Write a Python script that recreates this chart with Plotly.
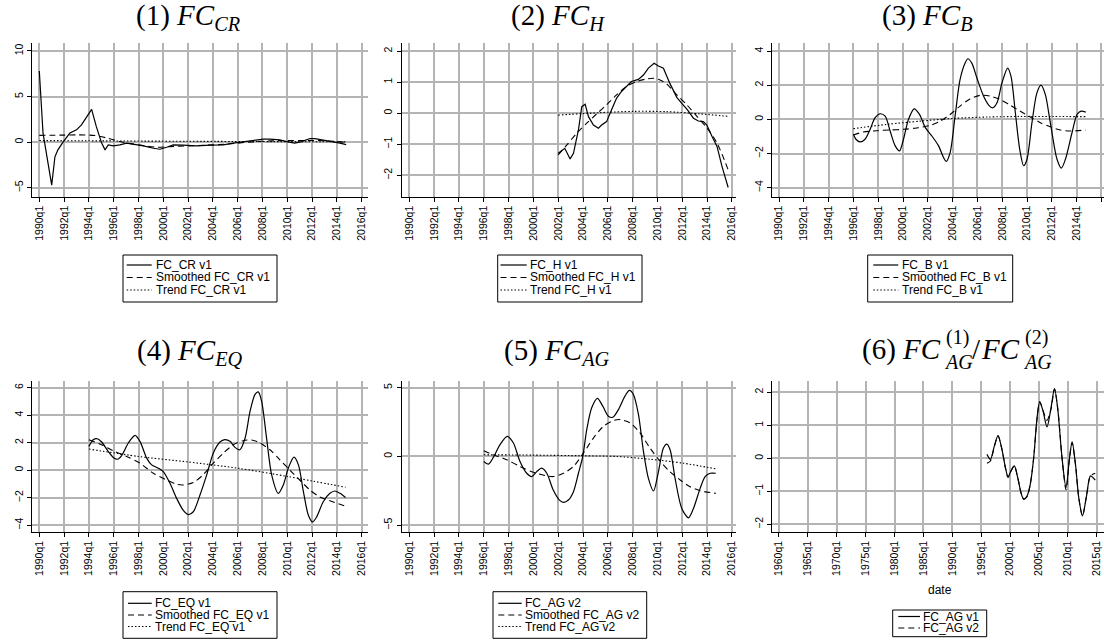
import plotly.graph_objects as go

# ---------------- data (decimal years) ----------------
cr_x = [1990.0, 1990.3, 1991.0, 1991.26, 1991.5, 1991.94, 1992.47, 1993.0, 1993.4, 1993.8,
        1994.22, 1994.6, 1995.03, 1995.3, 1995.56, 1995.97, 1996.5, 1997.04, 1997.58, 1998.4,
        1999.2, 1999.73, 2000.27, 2000.8, 2001.6, 2002.7, 2003.76, 2004.84, 2005.65, 2006.45,
        2007.26, 2008.06, 2008.6, 2009.4, 2009.95, 2010.6, 2011.16, 2011.83, 2012.23, 2012.9,
        2013.7, 2014.25, 2014.75]
cr_y = [7.8, 1.0, -4.7, -1.6, -0.84, 0.07, 1.0, 1.35, 1.9, 2.8,
        3.6, 1.7, -0.1, -0.84, -0.3, -0.4, -0.3, -0.1, -0.2, -0.4,
        -0.66, -0.77, -0.55, -0.3, -0.33, -0.4, -0.33, -0.3, -0.1, 0.04,
        0.18, 0.33, 0.33, 0.26, 0.07, -0.1, 0.07, 0.4, 0.4, 0.26,
        0.04, -0.1, -0.26]
cr_s_x = [1990.0, 1992.0, 1993.0, 1994.5, 1995.5, 1996.5, 1997.5, 1998.5, 1999.5, 2000.5,
          2002.0, 2003.5, 2005.0, 2006.5, 2008.0, 2009.5, 2011.0, 2012.5, 2014.0, 2014.75]
cr_s_y = [0.75, 0.78, 0.8, 0.73, 0.44, 0.07, -0.18, -0.4, -0.55, -0.48,
          -0.4, -0.33, -0.22, -0.04, 0.1, 0.18, 0.18, 0.18, 0.07, -0.04]
cr_t_x = [1990.0, 2002.0, 2014.75]
cr_t_y = [0.18, 0.1, 0.04]

h_x = [2002.0, 2002.53, 2002.96, 2003.23, 2003.63, 2003.9, 2004.17, 2004.44, 2004.84, 2005.24,
       2005.5, 2005.9, 2006.3, 2006.7, 2007.1, 2007.5, 2007.9, 2008.46, 2008.87, 2009.27,
       2009.73, 2010.08, 2010.48, 2011.0, 2011.56, 2011.96, 2012.42, 2012.9, 2013.3, 2013.7,
       2013.98, 2014.4, 2014.8, 2015.2, 2015.7]
h_y = [-1.29, -1.13, -1.47, -1.29, -0.54, 0.21, 0.29, -0.11, -0.38, -0.48,
       -0.38, -0.27, 0.11, 0.48, 0.70, 0.86, 1.02, 1.09, 1.23, 1.45,
       1.61, 1.52, 1.45, 0.96, 0.51, 0.32, 0.11, -0.16, -0.25, -0.27,
       -0.38, -0.75, -1.07, -1.71, -2.39]
h_s_x = [2002.0, 2002.7, 2003.5, 2004.3, 2005.1, 2005.9, 2006.7, 2007.5, 2008.33, 2009.1,
         2009.7, 2010.2, 2010.75, 2011.56, 2012.37, 2013.2, 2014.0, 2014.8, 2015.7]
h_s_y = [-1.34, -1.02, -0.64, -0.32, -0.02, 0.27, 0.59, 0.86, 1.02, 1.10,
         1.125, 1.07, 0.94, 0.59, 0.27, -0.11, -0.48, -0.96, -1.82]
h_t_x = [2002.0, 2005.4, 2008.1, 2010.75, 2013.4, 2015.7]
h_t_y = [-0.06, 0.02, 0.06, 0.05, -0.02, -0.1]

b_x = [1996.0, 1996.2, 1996.54, 1996.94, 1997.35, 1997.75, 1998.16, 1998.56, 1998.96, 1999.37,
       1999.72, 2000.04, 2000.44, 2000.9, 2001.33, 2001.8, 2002.33, 2002.87, 2003.27, 2003.48,
       2003.8, 2004.2, 2004.6, 2005.0, 2005.23, 2005.55, 2005.96, 2006.5, 2006.98, 2007.25,
       2007.58, 2007.98, 2008.44, 2008.71, 2009.06, 2009.41, 2009.73, 2010.0, 2010.4, 2010.8,
       2011.13, 2011.48, 2011.88, 2012.42, 2012.77, 2013.1, 2013.63, 2014.04, 2014.36, 2014.74]
b_y = [-0.87, -1.16, -1.32, -1.16, -0.58, 0.1, 0.33, 0.19, -0.68, -1.55,
       -1.84, -1.16, 0.0, 0.62, 0.29, -0.48, -0.97, -1.55, -2.23, -2.46,
       -1.94, 0.19, 2.33, 3.29, 3.55, 3.29, 2.42, 1.36, 0.78, 0.68,
       0.97, 2.13, 3.0, 2.52, 0.39, -1.74, -2.71, -2.33, -0.19, 1.55,
       2.0, 1.45, -0.19, -2.33, -2.85, -2.33, -0.78, 0.29, 0.48, 0.43]
b_s_x = [1996.0, 1996.8, 1997.9, 1998.96, 2000.04, 2001.1, 2002.2, 2003.0, 2003.8, 2004.6,
         2005.4, 2006.23, 2007.04, 2007.85, 2008.65, 2009.46, 2010.27, 2011.08, 2011.88, 2012.69,
         2013.5, 2014.74]
b_s_y = [-0.91, -0.74, -0.66, -0.62, -0.58, -0.5, -0.35, -0.1, 0.29, 0.78,
         1.2, 1.41, 1.36, 1.16, 0.83, 0.48, 0.14, -0.19, -0.43, -0.62,
         -0.68, -0.62]
b_t_x = [1996.0, 1998.7, 2001.4, 2004.1, 2006.8, 2009.5, 2012.15, 2014.74]
b_t_y = [-0.54, -0.29, -0.1, 0.06, 0.14, 0.17, 0.17, 0.16]

eq_x = [1994.0, 1994.35, 1994.68, 1995.03, 1995.56, 1995.97, 1996.3, 1996.64, 1997.18, 1997.72,
        1998.12, 1998.66, 1999.06, 1999.6, 2000.0, 2000.54, 2001.08, 2001.6, 2002.0, 2002.42,
        2002.96, 2003.5, 2004.03, 2004.57, 2004.97, 2005.38, 2005.78, 2006.18, 2006.6, 2007.0,
        2007.4, 2007.66, 2007.93, 2008.33, 2008.74, 2009.27, 2009.68, 2010.08, 2010.54, 2010.9,
        2011.3, 2011.7, 2012.04, 2012.37, 2012.9, 2013.44, 2013.84, 2014.25, 2014.7]
eq_y = [1.73, 2.22, 2.29, 2.05, 1.37, 0.93, 0.8, 1.07, 1.98, 2.54,
        2.1, 0.88, 0.39, 0.15, -0.1, -0.95, -2.05, -2.9, -3.22, -3.02,
        -1.8, -0.34, 1.24, 2.05, 2.22, 2.1, 1.66, 1.49, 2.34, 4.29,
        5.51, 5.7, 5.02, 2.34, -0.34, -1.68, -1.07, 0.15, 0.95, 0.39,
        -1.56, -3.27, -3.76, -3.39, -2.29, -1.68, -1.51, -1.68, -1.98]
eq_s_x = [1994.0, 1995.03, 1995.97, 1997.04, 1998.12, 1999.2, 2000.27, 2001.08, 2001.6, 2002.42,
          2003.2, 2004.03, 2004.84, 2005.65, 2006.45, 2007.13, 2007.8, 2008.6, 2009.4, 2010.2,
          2011.0, 2011.83, 2012.6, 2013.44, 2014.7]
eq_s_y = [2.22, 1.85, 1.41, 1.0, 0.51, -0.22, -0.71, -1.02, -1.07, -0.9,
          -0.34, 0.51, 1.24, 1.85, 2.15, 2.2, 1.98, 1.49, 0.76, 0.02,
          -0.71, -1.44, -1.93, -2.22, -2.61]
eq_t_x = [1994.0, 1998.0, 2002.0, 2006.0, 2010.0, 2014.7]
eq_t_y = [1.54, 1.0, 0.6, 0.15, -0.45, -1.24]

ag_x = [1996.0, 1996.37, 1996.77, 1997.3, 1997.9, 1998.39, 1998.92, 1999.46, 1999.87, 2000.27,
        2000.67, 2001.08, 2001.6, 2002.1, 2002.42, 2002.82, 2003.23, 2003.63, 2003.98, 2004.3,
        2004.7, 2005.16, 2005.59, 2006.05, 2006.4, 2006.85, 2007.38, 2007.74, 2008.06, 2008.47,
        2008.87, 2009.27, 2009.68, 2010.08, 2010.48, 2010.75, 2011.02, 2011.42, 2011.96, 2012.5,
        2012.9, 2013.44, 2013.84, 2014.25, 2014.7]
ag_y = [-0.37, -0.56, -0.07, 0.85, 1.46, 0.98, -0.37, -1.22, -1.46, -1.1,
        -0.85, -1.22, -2.44, -3.17, -3.34, -3.17, -2.56, -1.22, 0.0, 1.95,
        3.54, 4.22, 3.66, 2.93, 2.85, 3.41, 4.39, 4.8, 4.51, 3.05,
        0.37, -1.59, -2.51, -1.1, 0.61, 0.9, 0.49, -1.59, -3.78, -4.46,
        -3.78, -2.32, -1.46, -1.22, -1.22]
ag_s_x = [1996.0, 1996.77, 1997.85, 1998.92, 2000.0, 2001.08, 2001.6, 2002.42, 2003.23, 2004.03,
          2004.84, 2005.65, 2006.45, 2007.0, 2007.8, 2008.6, 2009.4, 2010.2, 2011.0, 2011.83,
          2012.63, 2013.44, 2014.7]
ag_s_y = [0.41, 0.12, -0.24, -0.73, -1.15, -1.41, -1.46, -1.22, -0.73, 0.24,
          1.34, 2.2, 2.61, 2.68, 2.44, 1.71, 0.61, -0.32, -1.1, -1.71,
          -2.2, -2.49, -2.68]
ag_t_x = [1996.0, 2000.0, 2004.03, 2006.7, 2009.4, 2012.1, 2014.7]
ag_t_y = [0.12, 0.1, 0.05, 0.0, -0.2, -0.49, -0.9]

p6_x = [1996.0, 1996.6, 1997.28, 1997.92, 1998.6, 1999.2, 1999.65, 2000.17, 2000.75, 2001.33,
        2001.9, 2002.37, 2002.95, 2003.5, 2004.1, 2004.68, 2005.14, 2005.72, 2006.4, 2007.1,
        2007.7, 2008.27, 2009.0, 2009.7, 2010.3, 2010.75, 2011.33, 2011.9, 2012.54, 2013.24,
        2013.93, 2014.75]
p6_v1 = [0.12, -0.03, 0.37, 0.69, 0.27, -0.28, -0.56, -0.38, -0.23, -0.58,
         -1.04, -1.24, -1.14, -0.79, 0.02, 1.23, 1.71, 1.43, 0.95, 1.53,
         2.11, 1.48, 0.02, -0.89, 0.02, 0.5, -0.18, -1.19, -1.74, -1.14,
         -0.53, -0.66]
p6_v2 = [-0.15, -0.08, 0.35, 0.68, 0.27, -0.28, -0.58, -0.38, -0.23, -0.58,
         -1.04, -1.22, -1.16, -0.79, 0.02, 1.2, 1.71, 1.45, 1.15, 1.5,
         2.1, 1.5, 0.02, -0.95, 0.0, 0.48, -0.18, -1.19, -1.74, -1.14,
         -0.53, -0.45]

years_a = list(range(1990, 2017, 2))
ticks_a = [f"{y}q1" for y in years_a]
years_b = list(range(1960, 2016, 5))
ticks_b = [f"{y}q1" for y in years_b]

# ---------------- figure ----------------
W, H = 1104, 641
fig = go.Figure()

SOLID = dict(color="black", width=1.2)
DASH = dict(color="black", width=1.1, dash="6px,4px")
DOT = dict(color="black", width=1.1, dash="1.5px,2px")

legend_items = {n: [] for n in range(1, 7)}


def add(n, x, y, name, line, shape="spline"):
    sfx = "" if n == 1 else str(n)
    ln = dict(line, shape=shape)
    if shape == "spline":
        ln["smoothing"] = 0.8
    fig.add_trace(go.Scatter(x=x, y=y, mode="lines", name=name, line=ln,
                             xaxis="x" + sfx, yaxis="y" + sfx, showlegend=False))
    legend_items[n].append((name, line))


add(1, cr_x, cr_y, "FC_CR v1", SOLID, "linear")
add(1, cr_s_x, cr_s_y, "Smoothed FC_CR v1", DASH)
add(1, cr_t_x, cr_t_y, "Trend FC_CR v1", DOT)
add(2, h_x, h_y, "FC_H v1", SOLID, "linear")
add(2, h_s_x, h_s_y, "Smoothed FC_H v1", DASH)
add(2, h_t_x, h_t_y, "Trend FC_H v1", DOT)
add(3, b_x, b_y, "FC_B v1", SOLID)
add(3, b_s_x, b_s_y, "Smoothed FC_B v1", DASH)
add(3, b_t_x, b_t_y, "Trend FC_B v1", DOT)
add(4, eq_x, eq_y, "FC_EQ v1", SOLID)
add(4, eq_s_x, eq_s_y, "Smoothed FC_EQ v1", DASH)
add(4, eq_t_x, eq_t_y, "Trend FC_EQ v1", DOT)
add(5, ag_x, ag_y, "FC_AG v2", SOLID)
add(5, ag_s_x, ag_s_y, "Smoothed FC_AG v2", DASH)
add(5, ag_t_x, ag_t_y, "Trend FC_AG v2", DOT)
add(6, p6_x, p6_v1, "FC_AG v1", SOLID)
add(6, p6_x, p6_v2, "FC_AG v2", DASH)

# pixel geometry of each plot region: (left, right, top, bottom)
geo = {
    1: (32.3, 367.5, 43.0, 196.5),
    2: (401.5, 736.0, 43.0, 196.5),
    3: (771.7, 1104.0, 43.0, 196.5),
    4: (32.3, 367.5, 380.7, 531.7),
    5: (401.5, 736.0, 380.7, 531.7),
    6: (771.7, 1104.0, 380.7, 531.7),
}
xr = {1: [1989.435, 2016.47], 2: [1989.37, 2016.33], 3: [1989.41, 2016.21],
      4: [1989.435, 2016.47], 5: [1989.37, 2016.33], 6: [1958.74, 2016.27]}
yr = {1: [-5.95, 10.87], 2: [-2.68, 2.26], 3: [-4.51, 4.47],
      4: [-4.47, 6.51], 5: [-5.47, 5.51], 6: [-2.22, 2.35]}
ytv = {1: [-5, 0, 5, 10], 2: [-2, -1, 0, 1, 2], 3: [-4, -2, 0, 2, 4],
       4: [-4, -2, 0, 2, 4, 6], 5: [-5, 0, 5], 6: [-2, -1, 0, 1, 2]}

SANS = "Liberation Sans, Arial, sans-serif"
TICKFONT = dict(family=SANS, size=10.5, color="black")
GRID = "#b4b4b4"

lay = {}
for n in range(1, 7):
    sfx = "" if n == 1 else str(n)
    l, r, t, b = geo[n]
    tv = years_b if n == 6 else years_a
    tt = ticks_b if n == 6 else ticks_a
    lay["xaxis" + sfx] = dict(domain=[l / W, r / W], range=xr[n], anchor="y" + sfx,
                              tickvals=tv, ticktext=tt, tickangle=-90, tickfont=TICKFONT,
                              showline=True, linecolor="black", linewidth=1,
                              ticks="outside", ticklen=4, tickcolor="black",
                              showgrid=True, gridcolor=GRID, gridwidth=1.5, zeroline=False,
                              automargin=False)
    lay["yaxis" + sfx] = dict(domain=[1 - b / H, 1 - t / H], range=yr[n], anchor="x" + sfx,
                              tickvals=ytv[n], tickangle=-90, tickfont=TICKFONT,
                              showline=True, linecolor="black", linewidth=1,
                              ticks="outside", ticklen=4, tickcolor="black",
                              showgrid=True, gridcolor=GRID, gridwidth=1.5, zeroline=False,
                              automargin=False)

# ---- Stata-style legend boxes (frame, key lines, labels) ----
# box (x0, y0, x1, y1), key line x-span, label x, row centres  (pixels)
leg_geo = {
    1: ((123.0, 255.0, 277.0, 302.0), (126.7, 151.7), 153.5, [265.0, 277.5, 290.0]),
    2: ((497.7, 255.0, 642.0, 302.0), (500.5, 526.7), 528.0, [265.0, 277.5, 290.0]),
    3: ((867.7, 255.0, 1012.7, 302.0), (873.3, 898.3), 899.6, [265.0, 277.5, 290.0]),
    4: ((123.0, 591.7, 277.0, 638.3), (128.0, 151.7), 153.0, [603.3, 615.0, 626.5]),
    5: ((493.0, 591.7, 646.7, 638.3), (498.3, 521.7), 523.0, [603.3, 615.0, 626.5]),
    6: ((892.7, 610.0, 986.7, 636.7), (898.3, 920.0), 921.4, [616.5, 628.0]),
}
shapes = []
ann = []
for n in range(1, 7):
    (x0, y0, x1, y1), (lx0, lx1), tx, rows = leg_geo[n]
    shapes.append(dict(type="rect", xref="paper", yref="paper",
                       x0=x0 / W, x1=x1 / W, y0=1 - y0 / H, y1=1 - y1 / H,
                       line=dict(color="black", width=1), fillcolor="white", layer="above"))
    for (name, line), ry in zip(legend_items[n], rows):
        shapes.append(dict(type="line", xref="paper", yref="paper",
                           x0=lx0 / W, x1=lx1 / W, y0=1 - ry / H, y1=1 - ry / H,
                           line=dict(color="black", width=line["width"],
                                     dash=line.get("dash", "solid")), layer="above"))
        ann.append(dict(x=tx / W, y=1 - ry / H, xref="paper", yref="paper", text=name,
                        showarrow=False, xanchor="left", yanchor="middle",
                        font=dict(family=SANS, size=12, color="black")))

# ---- panel titles ----
TF = dict(family="Liberation Serif, Times New Roman, serif", size=29, color="black")
SUBF = dict(family="Liberation Serif, Times New Roman, serif", size=20, color="black")
titles = [
    (188, 17, "(1) <i>FC</i><sub><i>CR</i></sub>"),
    (558, 17, "(2) <i>FC</i><sub><i>H</i></sub>"),
    (927, 17, "(3) <i>FC</i><sub><i>B</i></sub>"),
    (190, 352, "(4) <i>FC</i><sub><i>EQ</i></sub>"),
    (557, 352, "(5) <i>FC</i><sub><i>AG</i></sub>"),
]
for x, y, txt in titles:
    ann.append(dict(x=x / W, y=1 - y / H, xref="paper", yref="paper", text=txt,
                    showarrow=False, xanchor="center", yanchor="middle", font=TF))


# title (6): stacked sub/superscripts built from pieces
def piece(x, y, txt, font, anchor):
    ann.append(dict(x=x / W, y=1 - y / H, xref="paper", yref="paper", text=txt,
                    showarrow=False, xanchor=anchor, yanchor="middle", font=font))


piece(943, 349, "(6) <i>FC</i>", TF, "right")
piece(942, 362, "<i>AG</i>", SUBF, "left")
piece(944, 338, "(1)", SUBF, "left")
piece(970, 349, "/", TF, "left")
piece(1022, 349, "<i>FC</i>", TF, "right")
piece(1021, 362, "<i>AG</i>", SUBF, "left")
piece(1023, 338, "(2)", SUBF, "left")

ann.append(dict(x=940 / W, y=1 - 590 / H, xref="paper", yref="paper", text="date",
                showarrow=False, xanchor="center", yanchor="middle",
                font=dict(family=SANS, size=12, color="black")))

fig.update_layout(width=W, height=H, margin=dict(l=0, r=0, t=0, b=0, autoexpand=False),
                  paper_bgcolor="white", plot_bgcolor="white",
                  annotations=ann, shapes=shapes, showlegend=False, **lay)

fig.write_html("out.html", config={"displayModeBar": False},
               post_script="document.body.style.margin='0';document.body.style.overflow='hidden';")
